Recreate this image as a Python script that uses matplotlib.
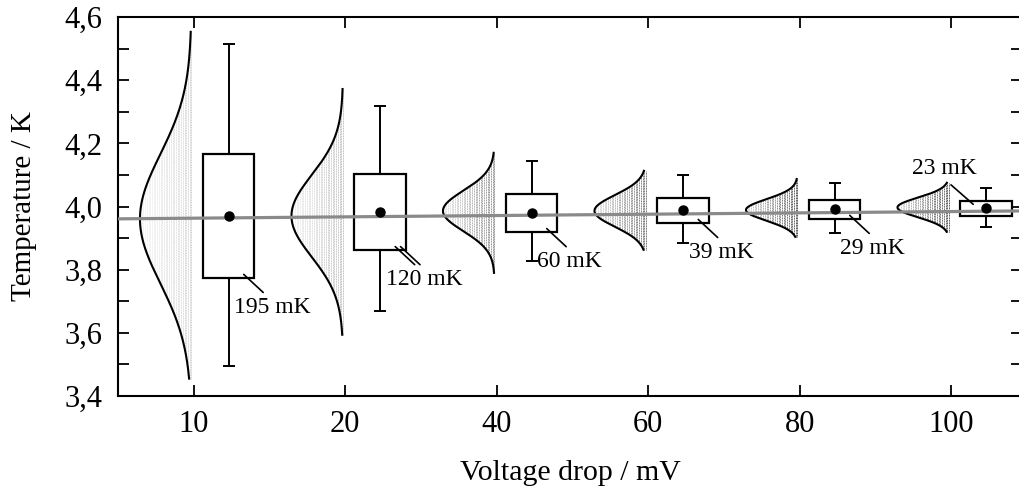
import numpy as np
import matplotlib
matplotlib.use("Agg")
import matplotlib.pyplot as plt
from matplotlib.ticker import FixedLocator, MultipleLocator, FuncFormatter

plt.rcParams['font.family'] = ['Liberation Serif', 'DejaVu Serif']
plt.rcParams['font.size'] = 21

# ---------------- data ----------------
categories = ['10', '20', '40', '60', '80', '100']          # voltage drop / mV
mean_T = [3.970, 3.983, 3.980, 3.988, 3.991, 3.994]          # mean temperature / K
sd_mK = [195, 120, 60, 39, 29, 23]                           # standard deviation / mK
whisker_low = [3.496, 3.670, 3.828, 3.885, 3.917, 3.935]
whisker_high = [4.515, 4.318, 4.144, 4.100, 4.075, 4.059]
dist_center = [3.961, 3.970, 3.986, 3.986, 3.989, 3.997]
dist_sigma = [0.204, 0.130, 0.064, 0.050, 0.034, 0.031]
dist_min = [3.455, 3.594, 3.790, 3.863, 3.904, 3.920]
dist_max = [4.553, 4.372, 4.170, 4.113, 4.087, 4.075]
trend_y = [3.963, 3.984]                                     # fit line at first / last category

# ---------------- figure ----------------
W, H = 1019, 495
fig = plt.figure(figsize=(W / 100, H / 100), dpi=100)
ax = fig.add_axes([118 / W, 99 / H, 904 / W, 379 / H])

pos = np.arange(len(categories))
sd = np.array(sd_mK) / 1000.0

violin_w = 0.34
edge_off = -0.015
box_left_off = 0.06
box_w = 0.34
cap_w = 0.08

for i, p in enumerate(pos):
    # half distribution (normal curve) to the left of tick
    yy = np.linspace(dist_min[i], dist_max[i], 400)
    ww = violin_w * np.exp(-(yy - dist_center[i]) ** 2 / (2 * dist_sigma[i] ** 2))
    edge = p + edge_off
    # hatch-like columns of data points
    alpha = min(1.0, 0.25 * (0.204 / dist_sigma[i]) ** 0.85)
    ncol = 30
    for k in range(ncol):
        d = violin_w * k / ncol
        mask = ww >= d
        if mask.sum() < 2:
            continue
        ax.vlines(edge - d, yy[mask].min(), yy[mask].max(), colors='0.15',
                  linewidth=0.6, alpha=alpha * (1 - 0.75 * k / ncol),
                  linestyles=(0, (1.2, 0.8)), zorder=1)
    ax.plot(edge - ww, yy, color='black', lw=1.5, zorder=2)

    # box = mean +- SD
    bl = p + box_left_off
    bc = bl + box_w / 2
    lo, hi = mean_T[i] - sd[i], mean_T[i] + sd[i]
    ax.add_patch(plt.Rectangle((bl, lo), box_w, hi - lo, facecolor='white',
                               edgecolor='black', lw=1.6, zorder=3))
    ax.vlines(bc, hi, whisker_high[i], color='black', lw=1.4, zorder=3)
    ax.vlines(bc, whisker_low[i], lo, color='black', lw=1.4, zorder=3)
    ax.hlines([whisker_low[i], whisker_high[i]], bc - cap_w / 2, bc + cap_w / 2,
              color='black', lw=1.4, zorder=3)
    ax.plot(bc, mean_T[i], 'o', color='black', ms=6.5, zorder=6)

    # annotations
    label = f"{sd_mK[i]} mK"
    arrow = dict(arrowstyle='-', lw=1.2, color='black', shrinkA=0, shrinkB=0)
    if i < len(pos) - 1:
        start = (bc + 0.1, lo + 0.01)
        ax.annotate('', xy=start, xytext=(14, -13), textcoords='offset points',
                    arrowprops=arrow, zorder=7)
        if i == 1:
            ax.annotate('', xy=(bc + 0.135, lo + 0.01), xytext=(14, -13),
                        textcoords='offset points', arrowprops=arrow, zorder=7)
        ax.annotate(label, xy=start, xytext=(-7, -24), textcoords='offset points',
                    ha='left', va='center', fontsize=17, zorder=7)
    else:
        start = (bc - 0.085, hi - 0.01)
        ax.annotate('', xy=start, xytext=(-16, 14), textcoords='offset points',
                    arrowprops=arrow, zorder=7)
        ax.annotate(label, xy=start, xytext=(-21, 26), textcoords='offset points',
                    ha='center', va='center', fontsize=17, zorder=7)

# trend line
ax.axline((pos[0], trend_y[0]), (pos[-1], trend_y[1]), color='#8a8a8a', lw=2.3, zorder=4)

ax.set_xlim(-0.5, -0.5 + 904 / 151.5)
ax.set_ylim(3.4, 4.6)
ax.xaxis.set_major_locator(FixedLocator(pos))
ax.set_xticklabels(categories)
ax.yaxis.set_major_locator(MultipleLocator(0.2))
ax.yaxis.set_minor_locator(MultipleLocator(0.1))
ax.yaxis.set_major_formatter(FuncFormatter(lambda v, _: f"{v:.1f}".replace('.', ',')))

ax.tick_params(axis='both', which='both', direction='in', top=True, right=True,
               width=1.3, length=8)
ax.tick_params(axis='x', labelsize=22, pad=10)
ax.tick_params(axis='y', labelsize=22, pad=11)
for s in ax.spines.values():
    s.set_linewidth(1.5)

ax.set_xlabel('Voltage drop / mV', fontsize=21.5, labelpad=15)
ax.set_ylabel('Temperature / K', fontsize=21, labelpad=20)

fig.savefig('out.png', dpi=100)
